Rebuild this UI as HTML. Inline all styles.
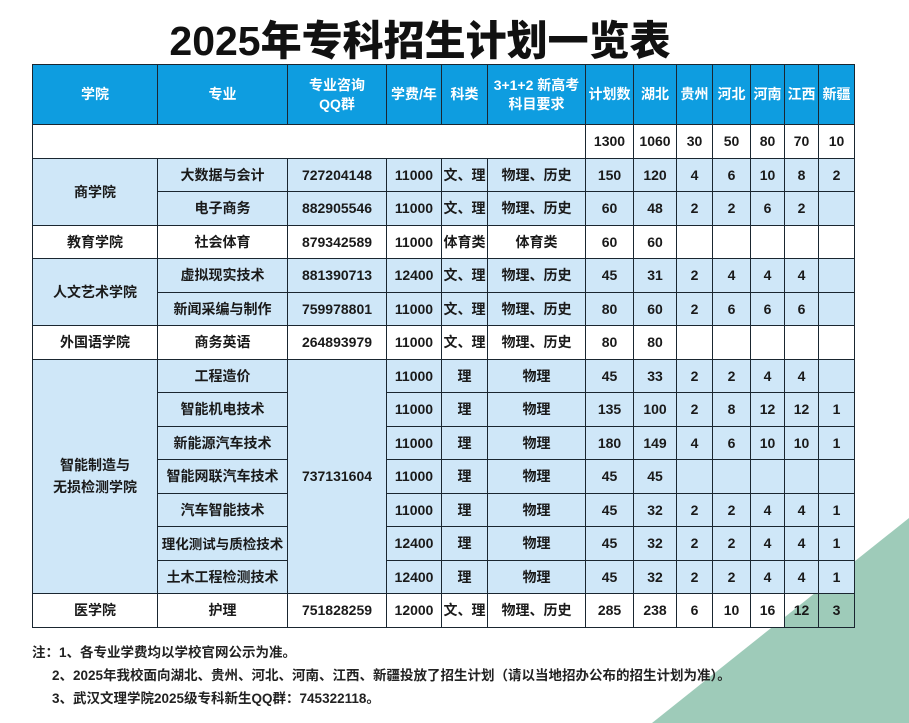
<!DOCTYPE html><html><head><meta charset="utf-8"><style>
body{margin:0;width:909px;height:723px;background:#fff;position:relative;overflow:hidden;font-family:"Liberation Sans","Noto Sans CJK SC",sans-serif;}
.tri{position:absolute;left:0;top:0;width:909px;height:723px}
h1{position:absolute;left:0;width:840px;top:7px;margin:0;text-align:center;font-size:41px;font-weight:900;color:#111;}
table{position:absolute;left:32px;top:64px;border-collapse:collapse;table-layout:fixed;width:822px;}
td{border:1.5px solid #1a2630;text-align:center;font-size:14px;font-weight:bold;color:#1a1a1a;padding:0;white-space:nowrap;overflow:hidden}
tr.h td{background:#0e9de0;color:#fff;height:59px;font-size:14px;line-height:19px}
tr.r td{height:32.5px}
.b td,td.b{background:#cfe7f8}
.w td,td.w{background:#fff}
.note{position:absolute;left:32px;font-size:13.5px;font-weight:bold;color:#222;white-space:nowrap}
</style></head><body>
<svg class="tri"><polygon points="909,518 909,723 652,723" fill="#9ecbb9"/></svg>
<h1>2025年专科招生计划一览表</h1>
<table>
<colgroup><col style="width:125px"><col style="width:130px"><col style="width:99px"><col style="width:55px"><col style="width:46px"><col style="width:98px"><col style="width:48px"><col style="width:43px"><col style="width:36px"><col style="width:38px"><col style="width:34px"><col style="width:34px"><col style="width:36px"></colgroup>
<tr class="h"><td>学院</td><td>专业</td><td>专业咨询<br>QQ群</td><td>学费/年</td><td>科类</td><td>3+1+2 新高考<br>科目要求</td><td>计划数</td><td>湖北</td><td>贵州</td><td>河北</td><td>河南</td><td>江西</td><td>新疆</td></tr>
<tr class="r w"><td colspan="6"></td><td>1300</td><td>1060</td><td>30</td><td>50</td><td>80</td><td>70</td><td>10</td></tr>
<tr class="r b"><td rowspan="2">商学院</td><td>大数据与会计</td><td>727204148</td><td>11000</td><td>文、理</td><td>物理、历史</td><td>150</td><td>120</td><td>4</td><td>6</td><td>10</td><td>8</td><td>2</td></tr>
<tr class="r b"><td>电子商务</td><td>882905546</td><td>11000</td><td>文、理</td><td>物理、历史</td><td>60</td><td>48</td><td>2</td><td>2</td><td>6</td><td>2</td><td></td></tr>
<tr class="r w"><td>教育学院</td><td>社会体育</td><td>879342589</td><td>11000</td><td>体育类</td><td>体育类</td><td>60</td><td>60</td><td></td><td></td><td></td><td></td><td></td></tr>
<tr class="r b"><td rowspan="2">人文艺术学院</td><td>虚拟现实技术</td><td>881390713</td><td>12400</td><td>文、理</td><td>物理、历史</td><td>45</td><td>31</td><td>2</td><td>4</td><td>4</td><td>4</td><td></td></tr>
<tr class="r b"><td>新闻采编与制作</td><td>759978801</td><td>11000</td><td>文、理</td><td>物理、历史</td><td>80</td><td>60</td><td>2</td><td>6</td><td>6</td><td>6</td><td></td></tr>
<tr class="r w"><td>外国语学院</td><td>商务英语</td><td>264893979</td><td>11000</td><td>文、理</td><td>物理、历史</td><td>80</td><td>80</td><td></td><td></td><td></td><td></td><td></td></tr>
<tr class="r b"><td rowspan="7" style="line-height:22px">智能制造与<br>无损检测学院</td><td>工程造价</td><td rowspan="7">737131604</td><td>11000</td><td>理</td><td>物理</td><td>45</td><td>33</td><td>2</td><td>2</td><td>4</td><td>4</td><td></td></tr>
<tr class="r b"><td>智能机电技术</td><td>11000</td><td>理</td><td>物理</td><td>135</td><td>100</td><td>2</td><td>8</td><td>12</td><td>12</td><td>1</td></tr>
<tr class="r b"><td>新能源汽车技术</td><td>11000</td><td>理</td><td>物理</td><td>180</td><td>149</td><td>4</td><td>6</td><td>10</td><td>10</td><td>1</td></tr>
<tr class="r b"><td>智能网联汽车技术</td><td>11000</td><td>理</td><td>物理</td><td>45</td><td>45</td><td></td><td></td><td></td><td></td><td></td></tr>
<tr class="r b"><td>汽车智能技术</td><td>11000</td><td>理</td><td>物理</td><td>45</td><td>32</td><td>2</td><td>2</td><td>4</td><td>4</td><td>1</td></tr>
<tr class="r b"><td style="font-size:13.5px">理化测试与质检技术</td><td>12400</td><td>理</td><td>物理</td><td>45</td><td>32</td><td>2</td><td>2</td><td>4</td><td>4</td><td>1</td></tr>
<tr class="r b"><td>土木工程检测技术</td><td>12400</td><td>理</td><td>物理</td><td>45</td><td>32</td><td>2</td><td>2</td><td>4</td><td>4</td><td>1</td></tr>
<tr class="r w"><td>医学院</td><td>护理</td><td>751828259</td><td>12000</td><td>文、理</td><td>物理、历史</td><td>285</td><td>238</td><td>6</td><td>10</td><td>16</td><td style="background:transparent">12</td><td style="background:transparent">3</td></tr>
</table>
<div class="note" style="top:641px">注：1、各专业学费均以学校官网公示为准。</div>
<div class="note" style="top:664px;left:52px">2、2025年我校面向湖北、贵州、河北、河南、江西、新疆投放了招生计划（请以当地招办公布的招生计划为准）。</div>
<div class="note" style="top:687px;left:52px">3、武汉文理学院2025级专科新生QQ群：745322118。</div>
</body></html>
